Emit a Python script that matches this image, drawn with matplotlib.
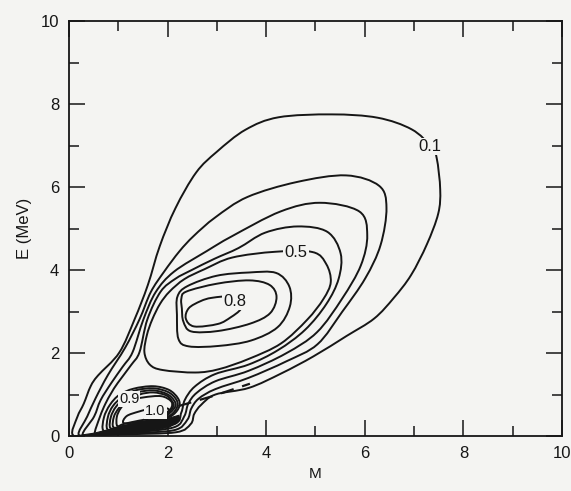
import matplotlib
matplotlib.use("Agg")
import matplotlib.pyplot as plt
from matplotlib.path import Path
from matplotlib.patches import PathPatch
from matplotlib.ticker import MultipleLocator

# contour levels as (M, E) points, each one a closed loop

# levels that wrap both maxima
lev01_m = [0.08, 0.17, 0.30, 0.44, 0.59, 1.02, 1.33, 1.60, 1.84, 2.16, 2.58, 3.00, 3.58, 4.25, 5.33, 6.26,
           6.95, 7.35, 7.46, 7.53, 7.49, 7.26, 6.94, 6.59, 6.19, 5.63, 4.96, 4.31, 3.65, 2.97, 2.68, 2.54,
           2.47, 2.17, 1.12, 0.52]
lev01_e = [0.02, 0.46, 0.78, 1.20, 1.46, 2.01, 2.81, 3.64, 4.57, 5.49, 6.35, 6.85, 7.38, 7.68, 7.75, 7.67,
           7.39, 6.97, 6.69, 5.94, 5.36, 4.62, 3.88, 3.33, 2.83, 2.41, 1.92, 1.51, 1.16, 1.00, 0.75, 0.53,
           0.29, 0.09, 0.04, 0.02]

lev02_m = [0.20, 0.37, 0.54, 0.79, 1.14, 1.43, 1.66, 1.93, 2.24, 2.53, 2.97, 3.62, 4.62, 5.62, 6.29, 6.44,
           6.32, 6.01, 5.54, 5.04, 4.41, 3.64, 2.97, 2.63, 2.48, 2.40, 2.13, 1.22, 0.62]
lev02_e = [0.02, 0.47, 0.91, 1.47, 2.13, 2.81, 3.47, 3.96, 4.45, 4.82, 5.27, 5.76, 6.12, 6.28, 6.03, 5.50,
           4.60, 3.80, 2.99, 2.21, 1.80, 1.40, 1.13, 0.90, 0.66, 0.39, 0.14, 0.07, 0.04]

lev03_m = [0.28, 0.51, 0.64, 0.86, 1.09, 1.29, 1.51, 1.76, 2.13, 2.80, 3.30, 4.29, 5.09, 5.89, 6.05, 5.92,
           5.54, 5.03, 4.40, 3.64, 2.97, 2.59, 2.42, 2.34, 2.13, 1.33, 0.72]
lev03_e = [0.02, 0.47, 0.86, 1.28, 1.67, 2.02, 2.81, 3.47, 3.96, 4.46, 4.81, 5.41, 5.62, 5.41, 4.84, 4.11,
           3.31, 2.50, 1.99, 1.57, 1.32, 1.04, 0.78, 0.48, 0.21, 0.09, 0.06]

lev04_m = [0.52, 0.63, 0.74, 0.86, 0.99, 1.26, 1.43, 1.59, 1.86, 2.16, 2.49, 2.95, 3.44, 3.98, 4.64, 5.24,
           5.51, 5.47, 5.22, 4.79, 4.24, 3.64, 2.96, 2.55, 2.35, 2.28, 2.13, 1.33, 0.72]
lev04_e = [0.03, 0.47, 0.78, 1.04, 1.28, 1.71, 2.02, 2.81, 3.48, 3.79, 4.00, 4.27, 4.53, 4.90, 5.05, 4.92,
           4.40, 3.79, 3.18, 2.56, 2.07, 1.72, 1.49, 1.19, 0.87, 0.57, 0.28, 0.12, 0.09]

# upper maximum
lev05_m = [4.95, 5.22, 5.31, 5.16, 4.83, 4.30, 3.65, 3.04, 2.56, 1.90, 1.64, 1.53, 1.58, 1.69, 1.85, 2.04,
           2.34, 2.75, 3.31, 4.19]
lev05_e = [4.43, 4.14, 3.71, 3.30, 2.80, 2.23, 1.86, 1.61, 1.53, 1.59, 1.72, 2.02, 2.43, 2.81, 3.19, 3.48,
           3.78, 4.02, 4.30, 4.44]

lev06_m = [2.20, 2.40, 2.99, 3.65, 4.20, 4.47, 4.48, 4.23, 3.69, 3.03, 2.43, 2.22, 2.19]
lev06_e = [3.36, 3.61, 3.86, 3.94, 3.93, 3.60, 3.12, 2.62, 2.30, 2.17, 2.16, 2.34, 2.92]

lev07_m = [2.28, 2.38, 3.00, 3.66, 4.07, 4.21, 4.08, 3.68, 3.02, 2.48, 2.32, 2.29]
lev07_e = [3.31, 3.48, 3.67, 3.75, 3.64, 3.35, 2.96, 2.71, 2.53, 2.52, 2.76, 3.07]

lev08_m = [2.90, 2.67, 2.43, 2.37, 2.54, 3.02, 3.28, 3.48, 3.50, 3.34]
lev08_e = [3.33, 3.25, 3.08, 2.83, 2.64, 2.70, 2.86, 3.05, 3.24, 3.37]

# lower maximum, close to the yrast line
low05_m = [0.70, 0.71, 0.83, 1.02, 1.31, 1.71, 2.03, 2.21, 2.24, 2.12, 1.88, 1.43, 0.96]
low05_e = [0.13, 0.45, 0.75, 0.99, 1.14, 1.20, 1.11, 0.91, 0.72, 0.52, 0.38, 0.25, 0.17]

low06_m = [0.78, 0.79, 0.89, 1.08, 1.35, 1.71, 2.01, 2.17, 2.20, 2.08, 1.84, 1.43, 1.00]
low06_e = [0.16, 0.46, 0.72, 0.94, 1.10, 1.15, 1.06, 0.89, 0.72, 0.52, 0.38, 0.27, 0.19]

low07_m = [0.84, 0.85, 0.95, 1.12, 1.39, 1.71, 1.99, 2.13, 2.16, 2.04, 1.80, 1.42, 1.04]
low07_e = [0.19, 0.46, 0.70, 0.89, 1.05, 1.10, 1.01, 0.86, 0.72, 0.55, 0.39, 0.30, 0.21]

low08_m = [0.90, 0.91, 1.01, 1.16, 1.43, 1.71, 1.97, 2.09, 2.12, 2.00, 1.76, 1.42, 1.08]
low08_e = [0.21, 0.46, 0.67, 0.84, 1.00, 1.05, 0.98, 0.84, 0.72, 0.55, 0.42, 0.32, 0.24]

low09_m = [0.98, 0.97, 1.05, 1.20, 1.51, 1.87, 2.07, 2.08, 1.96, 1.72, 1.42, 1.11]
low09_e = [0.24, 0.46, 0.67, 0.84, 0.93, 0.96, 0.84, 0.69, 0.55, 0.44, 0.37, 0.29]

low10_m = [1.11, 1.17, 1.42, 1.72, 1.92, 2.04, 1.98, 1.72, 1.42]
low10_e = [0.31, 0.48, 0.59, 0.68, 0.69, 0.62, 0.48, 0.39, 0.34]

# solid ink where the lowest lines run together along the axis
ink_m = [0.12, 0.52, 0.92, 1.33, 1.73, 2.03, 2.23, 2.25, 2.03, 1.53, 0.92, 0.32]
ink_e = [0.00, 0.07, 0.19, 0.30, 0.37, 0.43, 0.50, 0.38, 0.21, 0.10, 0.04, 0.00]

# dashed line
yrast_m = [2.22, 2.91, 3.67]
yrast_e = [0.72, 0.96, 1.26]

label_text = ["0.1", "0.5", "0.8", "0.9", "1.0"]
label_m = [7.33, 4.60, 3.37, 1.22, 1.75]
label_e = [6.98, 4.42, 3.24, 0.89, 0.61]
label_size = [12, 12, 12, 10.5, 10.5]

bg = "#f4f4f2"
ink = "#161616"


def loop_path(m, e):
    # closed curve through the traced points (catmull-rom drawn as cubic beziers)
    n = len(m)
    pts = list(zip(m, e))
    verts = [pts[0]]
    codes = [Path.MOVETO]
    for i in range(n):
        p0 = pts[i - 1]
        p1 = pts[i]
        p2 = pts[(i + 1) % n]
        p3 = pts[(i + 2) % n]
        c1 = (p1[0] + (p2[0] - p0[0]) / 6, p1[1] + (p2[1] - p0[1]) / 6)
        c2 = (p2[0] - (p3[0] - p1[0]) / 6, p2[1] - (p3[1] - p1[1]) / 6)
        verts += [c1, c2, p2]
        codes += [Path.CURVE4] * 3
    return Path(verts, codes)


plt.rcParams["font.family"] = ["Liberation Sans", "DejaVu Sans"]

fig = plt.figure(figsize=(5.71, 4.91), dpi=100, facecolor=bg)
ax = fig.add_axes([0.1208, 0.112, 0.8634, 0.8452])
ax.set_facecolor(bg)

loops = [
    (lev01_m, lev01_e), (lev02_m, lev02_e), (lev03_m, lev03_e), (lev04_m, lev04_e),
    (lev05_m, lev05_e), (lev06_m, lev06_e), (lev07_m, lev07_e), (lev08_m, lev08_e),
    (low05_m, low05_e), (low06_m, low06_e), (low07_m, low07_e), (low08_m, low08_e),
    (low09_m, low09_e), (low10_m, low10_e),
]
for m, e in loops:
    ax.add_patch(PathPatch(loop_path(m, e), fc="none", ec=ink, lw=1.4, joinstyle="round"))

ax.fill(ink_m, ink_e, color=ink, lw=0.8)
ax.plot(yrast_m, yrast_e, color=ink, lw=1.6, dashes=(6, 4))

for t, m, e, s in zip(label_text, label_m, label_e, label_size):
    ax.text(m, e, t, fontsize=s, ha="center", va="center", color=ink, zorder=5,
            bbox=dict(boxstyle="square,pad=0.08", fc=bg, ec="none"))

ax.set_xlim(0, 10)
ax.set_ylim(0, 10)
ax.xaxis.set_major_locator(MultipleLocator(2))
ax.xaxis.set_minor_locator(MultipleLocator(1))
ax.yaxis.set_major_locator(MultipleLocator(2))
ax.yaxis.set_minor_locator(MultipleLocator(1))
ax.tick_params(which="both", direction="in", top=True, right=True, colors=ink)
ax.tick_params(which="major", length=11.5, width=1.1, pad=7, labelsize=12)
ax.tick_params(which="minor", length=7, width=1.1)
for sp in ax.spines.values():
    sp.set_linewidth(1.3)
    sp.set_color(ink)

ax.set_xlabel("M", fontsize=11, color=ink)
ax.set_ylabel("E (MeV)", fontsize=12, color=ink)
ax.xaxis.set_label_coords(0.5, -0.075)
ax.yaxis.set_label_coords(-0.074, 0.5)

fig.savefig("out.png", dpi=100, facecolor=bg)
